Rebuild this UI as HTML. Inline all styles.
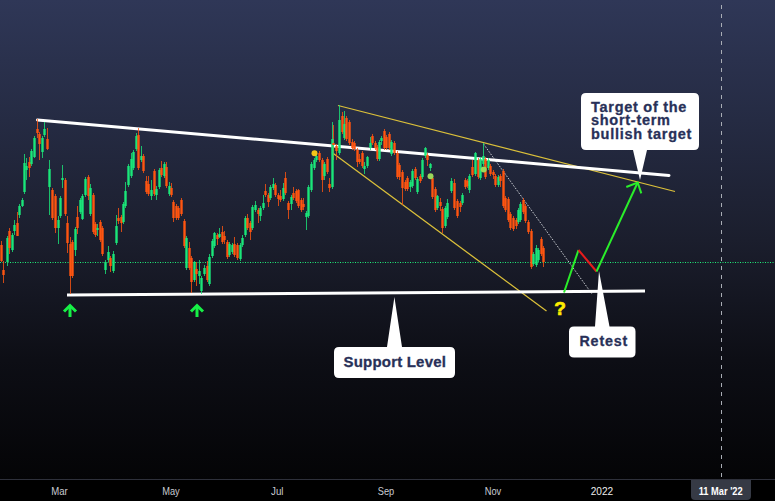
<!DOCTYPE html>
<html><head><meta charset="utf-8"><style>
html,body{margin:0;padding:0;background:#0b0b0e;}
body{width:775px;height:501px;overflow:hidden;position:relative;font-family:"Liberation Sans",sans-serif;}
svg{position:absolute;left:0;top:0;}
</style></head><body>
<svg width="775" height="501" viewBox="0 0 775 501">
<defs>
<linearGradient id="bg" x1="0" y1="0" x2="0" y2="480" gradientUnits="userSpaceOnUse">
<stop offset="0" stop-color="#2f3757"/>
<stop offset="0.25" stop-color="#252b43"/>
<stop offset="0.5" stop-color="#1b1e2d"/>
<stop offset="0.75" stop-color="#0d0e15"/>
<stop offset="1" stop-color="#040406"/>
</linearGradient>
</defs>
<rect x="0" y="0" width="775" height="480" fill="url(#bg)"/>
<rect x="0" y="480" width="775" height="21" fill="#000000"/>
<rect x="0" y="479" width="775" height="1" fill="#2e303b"/>
<!-- dashed vertical -->
<line x1="721.5" y1="5" x2="721.5" y2="479" stroke="#a9adb5" stroke-width="1" stroke-dasharray="4 5"/>
<!-- green dotted horizontal -->
<line x1="0" y1="262.5" x2="775" y2="262.5" stroke="#1ef07a" stroke-width="1" stroke-dasharray="1 1.5"/>
<!-- yellow channel -->
<line x1="338" y1="105.5" x2="675" y2="191.5" stroke="#dcc13a" stroke-width="1.25"/>
<line x1="332" y1="152.5" x2="546.5" y2="311" stroke="#dcc13a" stroke-width="1.25"/>
<!-- gray dotted -->
<line x1="483.5" y1="144" x2="592" y2="294" stroke="#c8cbd0" stroke-width="1" stroke-dasharray="1.6 1.4"/>
<!-- white lines -->
<line x1="37.5" y1="120" x2="669" y2="175.4" stroke="#ffffff" stroke-width="3" stroke-linecap="round"/>
<line x1="67" y1="295" x2="645" y2="291" stroke="#ffffff" stroke-width="3" stroke-linecap="butt"/>
<rect x="1" y="241" width="1" height="21" fill="#ff5510" fill-opacity="0.8"/>
<rect x="3" y="261" width="1" height="22" fill="#ff5510" fill-opacity="0.8"/>
<rect x="7" y="236" width="1" height="30" fill="#1ae679" fill-opacity="0.8"/>
<rect x="9" y="228" width="1" height="26" fill="#ff5510" fill-opacity="0.8"/>
<rect x="12" y="233" width="1" height="19" fill="#1ae679" fill-opacity="0.8"/>
<rect x="14" y="220" width="1" height="15" fill="#1ae679" fill-opacity="0.8"/>
<rect x="17" y="212" width="1" height="24" fill="#ff5510" fill-opacity="0.8"/>
<rect x="19" y="204" width="1" height="14" fill="#1ae679" fill-opacity="0.8"/>
<rect x="22" y="198" width="1" height="9" fill="#1ae679" fill-opacity="0.8"/>
<rect x="24" y="154" width="1" height="40" fill="#1ae679" fill-opacity="0.8"/>
<rect x="26" y="158" width="1" height="22" fill="#1ae679" fill-opacity="0.8"/>
<rect x="29" y="157" width="1" height="20" fill="#ff5510" fill-opacity="0.8"/>
<rect x="31" y="149" width="1" height="17" fill="#1ae679" fill-opacity="0.8"/>
<rect x="34" y="136" width="1" height="22" fill="#1ae679" fill-opacity="0.8"/>
<rect x="37" y="119" width="1" height="19" fill="#ff5510" fill-opacity="0.8"/>
<rect x="39" y="132" width="1" height="28" fill="#ff5510" fill-opacity="0.8"/>
<rect x="42" y="136" width="1" height="22" fill="#1ae679" fill-opacity="0.8"/>
<rect x="44" y="122" width="1" height="15" fill="#1ae679" fill-opacity="0.8"/>
<rect x="47" y="128" width="1" height="22" fill="#ff5510" fill-opacity="0.8"/>
<rect x="49" y="160" width="1" height="55" fill="#1ae679" fill-opacity="0.8"/>
<rect x="52" y="188" width="1" height="32" fill="#ff5510" fill-opacity="0.8"/>
<rect x="55" y="194" width="1" height="39" fill="#ff5510" fill-opacity="0.8"/>
<rect x="58" y="216" width="1" height="28" fill="#1ae679" fill-opacity="0.8"/>
<rect x="60" y="196" width="1" height="22" fill="#1ae679" fill-opacity="0.8"/>
<rect x="62" y="165" width="1" height="23" fill="#1ae679" fill-opacity="0.8"/>
<rect x="65" y="178" width="1" height="38" fill="#ff5510" fill-opacity="0.8"/>
<rect x="67" y="216" width="1" height="37" fill="#ff5510" fill-opacity="0.8"/>
<rect x="70" y="237" width="1" height="57" fill="#ff5510" fill-opacity="0.8"/>
<rect x="72" y="240" width="1" height="38" fill="#ff5510" fill-opacity="0.8"/>
<rect x="75" y="227" width="1" height="29" fill="#1ae679" fill-opacity="0.8"/>
<rect x="77" y="206" width="1" height="28" fill="#ff5510" fill-opacity="0.8"/>
<rect x="80" y="198" width="1" height="16" fill="#1ae679" fill-opacity="0.8"/>
<rect x="82" y="194" width="1" height="26" fill="#1ae679" fill-opacity="0.8"/>
<rect x="85" y="177" width="1" height="20" fill="#1ae679" fill-opacity="0.8"/>
<rect x="88" y="175" width="1" height="25" fill="#ff5510" fill-opacity="0.8"/>
<rect x="90" y="184" width="1" height="32" fill="#1ae679" fill-opacity="0.8"/>
<rect x="93" y="193" width="1" height="41" fill="#ff5510" fill-opacity="0.8"/>
<rect x="95" y="222" width="1" height="15" fill="#ff5510" fill-opacity="0.8"/>
<rect x="97" y="224" width="1" height="12" fill="#1ae679" fill-opacity="0.8"/>
<rect x="100" y="220" width="1" height="22" fill="#ff5510" fill-opacity="0.8"/>
<rect x="102" y="226" width="1" height="30" fill="#ff5510" fill-opacity="0.8"/>
<rect x="105" y="260" width="1" height="14" fill="#1ae679" fill-opacity="0.8"/>
<rect x="108" y="246" width="1" height="16" fill="#1ae679" fill-opacity="0.8"/>
<rect x="110" y="256" width="1" height="16" fill="#ff5510" fill-opacity="0.8"/>
<rect x="113" y="251" width="1" height="22" fill="#1ae679" fill-opacity="0.8"/>
<rect x="116" y="215" width="1" height="30" fill="#1ae679" fill-opacity="0.8"/>
<rect x="118" y="208" width="1" height="16" fill="#ff5510" fill-opacity="0.8"/>
<rect x="121" y="215" width="1" height="17" fill="#ff5510" fill-opacity="0.8"/>
<rect x="123" y="202" width="1" height="22" fill="#1ae679" fill-opacity="0.8"/>
<rect x="125" y="182" width="1" height="26" fill="#1ae679" fill-opacity="0.8"/>
<rect x="128" y="164" width="1" height="23" fill="#1ae679" fill-opacity="0.8"/>
<rect x="131" y="153" width="1" height="25" fill="#1ae679" fill-opacity="0.8"/>
<rect x="133" y="150" width="1" height="20" fill="#1ae679" fill-opacity="0.8"/>
<rect x="136" y="133" width="1" height="18" fill="#1ae679" fill-opacity="0.8"/>
<rect x="138" y="128" width="1" height="42" fill="#ff5510" fill-opacity="0.8"/>
<rect x="141" y="146" width="1" height="16" fill="#1ae679" fill-opacity="0.8"/>
<rect x="143" y="154" width="1" height="19" fill="#ff5510" fill-opacity="0.8"/>
<rect x="146" y="176" width="1" height="18" fill="#ff5510" fill-opacity="0.8"/>
<rect x="148" y="176" width="1" height="20" fill="#ff5510" fill-opacity="0.8"/>
<rect x="151" y="180" width="1" height="20" fill="#1ae679" fill-opacity="0.8"/>
<rect x="154" y="169" width="1" height="27" fill="#ff5510" fill-opacity="0.8"/>
<rect x="156" y="186" width="1" height="14" fill="#1ae679" fill-opacity="0.8"/>
<rect x="159" y="168" width="1" height="21" fill="#1ae679" fill-opacity="0.8"/>
<rect x="161" y="161" width="1" height="16" fill="#ff5510" fill-opacity="0.8"/>
<rect x="164" y="162" width="1" height="16" fill="#1ae679" fill-opacity="0.8"/>
<rect x="166" y="162" width="1" height="26" fill="#ff5510" fill-opacity="0.8"/>
<rect x="169" y="182" width="1" height="14" fill="#1ae679" fill-opacity="0.8"/>
<rect x="171" y="183" width="1" height="14" fill="#ff5510" fill-opacity="0.8"/>
<rect x="173" y="200" width="1" height="22" fill="#ff5510" fill-opacity="0.8"/>
<rect x="176" y="204" width="1" height="16" fill="#ff5510" fill-opacity="0.8"/>
<rect x="178" y="206" width="1" height="14" fill="#ff5510" fill-opacity="0.8"/>
<rect x="181" y="198" width="1" height="18" fill="#ff5510" fill-opacity="0.8"/>
<rect x="184" y="219" width="1" height="29" fill="#ff5510" fill-opacity="0.8"/>
<rect x="186" y="236" width="1" height="34" fill="#1ae679" fill-opacity="0.8"/>
<rect x="189" y="242" width="1" height="28" fill="#ff5510" fill-opacity="0.8"/>
<rect x="191" y="256" width="1" height="37" fill="#ff5510" fill-opacity="0.8"/>
<rect x="194" y="261" width="1" height="21" fill="#1ae679" fill-opacity="0.8"/>
<rect x="196" y="262" width="1" height="24" fill="#ff5510" fill-opacity="0.8"/>
<rect x="199" y="260" width="1" height="24" fill="#1ae679" fill-opacity="0.8"/>
<rect x="201" y="276" width="1" height="18" fill="#1ae679" fill-opacity="0.8"/>
<rect x="204" y="265" width="1" height="11" fill="#1ae679" fill-opacity="0.8"/>
<rect x="207" y="261" width="1" height="21" fill="#ff5510" fill-opacity="0.8"/>
<rect x="209" y="254" width="1" height="32" fill="#1ae679" fill-opacity="0.8"/>
<rect x="212" y="239" width="1" height="19" fill="#1ae679" fill-opacity="0.8"/>
<rect x="214" y="232" width="1" height="16" fill="#1ae679" fill-opacity="0.8"/>
<rect x="217" y="233" width="1" height="12" fill="#ff5510" fill-opacity="0.8"/>
<rect x="219" y="228" width="1" height="10" fill="#1ae679" fill-opacity="0.8"/>
<rect x="222" y="226" width="1" height="18" fill="#ff5510" fill-opacity="0.8"/>
<rect x="224" y="231" width="1" height="13" fill="#ff5510" fill-opacity="0.8"/>
<rect x="227" y="240" width="1" height="19" fill="#ff5510" fill-opacity="0.8"/>
<rect x="229" y="242" width="1" height="15" fill="#1ae679" fill-opacity="0.8"/>
<rect x="232" y="243" width="1" height="11" fill="#1ae679" fill-opacity="0.8"/>
<rect x="234" y="237" width="1" height="20" fill="#ff5510" fill-opacity="0.8"/>
<rect x="237" y="243" width="1" height="17" fill="#ff5510" fill-opacity="0.8"/>
<rect x="240" y="243" width="1" height="18" fill="#1ae679" fill-opacity="0.8"/>
<rect x="242" y="235" width="1" height="12" fill="#1ae679" fill-opacity="0.8"/>
<rect x="245" y="216" width="1" height="21" fill="#1ae679" fill-opacity="0.8"/>
<rect x="247" y="214" width="1" height="16" fill="#ff5510" fill-opacity="0.8"/>
<rect x="250" y="221" width="1" height="19" fill="#ff5510" fill-opacity="0.8"/>
<rect x="252" y="205" width="1" height="25" fill="#1ae679" fill-opacity="0.8"/>
<rect x="255" y="201" width="1" height="11" fill="#1ae679" fill-opacity="0.8"/>
<rect x="258" y="208" width="1" height="15" fill="#ff5510" fill-opacity="0.8"/>
<rect x="260" y="206" width="1" height="15" fill="#1ae679" fill-opacity="0.8"/>
<rect x="263" y="195" width="1" height="15" fill="#1ae679" fill-opacity="0.8"/>
<rect x="265" y="184" width="1" height="13" fill="#ff5510" fill-opacity="0.8"/>
<rect x="268" y="193" width="1" height="14" fill="#ff5510" fill-opacity="0.8"/>
<rect x="270" y="185" width="1" height="15" fill="#1ae679" fill-opacity="0.8"/>
<rect x="273" y="178" width="1" height="12" fill="#1ae679" fill-opacity="0.8"/>
<rect x="275" y="183" width="1" height="14" fill="#ff5510" fill-opacity="0.8"/>
<rect x="278" y="193" width="1" height="13" fill="#ff5510" fill-opacity="0.8"/>
<rect x="280" y="190" width="1" height="12" fill="#ff5510" fill-opacity="0.8"/>
<rect x="283" y="183" width="1" height="18" fill="#1ae679" fill-opacity="0.8"/>
<rect x="285" y="172" width="1" height="23" fill="#ff5510" fill-opacity="0.8"/>
<rect x="288" y="201" width="1" height="18" fill="#ff5510" fill-opacity="0.8"/>
<rect x="291" y="195" width="1" height="15" fill="#1ae679" fill-opacity="0.8"/>
<rect x="293" y="187" width="1" height="13" fill="#ff5510" fill-opacity="0.8"/>
<rect x="296" y="189" width="1" height="14" fill="#ff5510" fill-opacity="0.8"/>
<rect x="298" y="189" width="1" height="19" fill="#ff5510" fill-opacity="0.8"/>
<rect x="301" y="198" width="1" height="14" fill="#ff5510" fill-opacity="0.8"/>
<rect x="303" y="198" width="1" height="12" fill="#ff5510" fill-opacity="0.8"/>
<rect x="306" y="211" width="1" height="19" fill="#1ae679" fill-opacity="0.8"/>
<rect x="308" y="185" width="1" height="33" fill="#1ae679" fill-opacity="0.8"/>
<rect x="311" y="162" width="1" height="30" fill="#1ae679" fill-opacity="0.8"/>
<rect x="314" y="158" width="1" height="12" fill="#1ae679" fill-opacity="0.8"/>
<rect x="316" y="151" width="1" height="11" fill="#1ae679" fill-opacity="0.8"/>
<rect x="319" y="151" width="1" height="11" fill="#ff5510" fill-opacity="0.8"/>
<rect x="322" y="158" width="1" height="34" fill="#ff5510" fill-opacity="0.8"/>
<rect x="324" y="162" width="1" height="18" fill="#1ae679" fill-opacity="0.8"/>
<rect x="327" y="157" width="1" height="17" fill="#ff5510" fill-opacity="0.8"/>
<rect x="329" y="178" width="1" height="14" fill="#ff5510" fill-opacity="0.8"/>
<rect x="332" y="122" width="1" height="67" fill="#1ae679" fill-opacity="0.8"/>
<rect x="333" y="125" width="1" height="35" fill="#ff5510" fill-opacity="0.8"/>
<rect x="336" y="144" width="1" height="16" fill="#ff5510" fill-opacity="0.8"/>
<rect x="339" y="105" width="1" height="50" fill="#1ae679" fill-opacity="0.8"/>
<rect x="342" y="112" width="1" height="22" fill="#ff5510" fill-opacity="0.8"/>
<rect x="344" y="111" width="1" height="29" fill="#1ae679" fill-opacity="0.8"/>
<rect x="346" y="116" width="1" height="25" fill="#ff5510" fill-opacity="0.8"/>
<rect x="349" y="120" width="1" height="25" fill="#ff5510" fill-opacity="0.8"/>
<rect x="352" y="139" width="1" height="11" fill="#ff5510" fill-opacity="0.8"/>
<rect x="354" y="141" width="1" height="10" fill="#ff5510" fill-opacity="0.8"/>
<rect x="357" y="148" width="1" height="19" fill="#ff5510" fill-opacity="0.8"/>
<rect x="359" y="154" width="1" height="10" fill="#ff5510" fill-opacity="0.8"/>
<rect x="362" y="151" width="1" height="17" fill="#ff5510" fill-opacity="0.8"/>
<rect x="364" y="162" width="1" height="12" fill="#1ae679" fill-opacity="0.8"/>
<rect x="367" y="156" width="1" height="12" fill="#1ae679" fill-opacity="0.8"/>
<rect x="370" y="137" width="1" height="13" fill="#1ae679" fill-opacity="0.8"/>
<rect x="372" y="134" width="1" height="11" fill="#ff5510" fill-opacity="0.8"/>
<rect x="375" y="141" width="1" height="9" fill="#ff5510" fill-opacity="0.8"/>
<rect x="377" y="145" width="1" height="16" fill="#ff5510" fill-opacity="0.8"/>
<rect x="379" y="140" width="1" height="21" fill="#1ae679" fill-opacity="0.8"/>
<rect x="381" y="136" width="1" height="9" fill="#1ae679" fill-opacity="0.8"/>
<rect x="384" y="129" width="1" height="21" fill="#ff5510" fill-opacity="0.8"/>
<rect x="386" y="135" width="1" height="15" fill="#ff5510" fill-opacity="0.8"/>
<rect x="389" y="132" width="1" height="18" fill="#ff5510" fill-opacity="0.8"/>
<rect x="391" y="140" width="1" height="16" fill="#1ae679" fill-opacity="0.8"/>
<rect x="394" y="141" width="1" height="14" fill="#ff5510" fill-opacity="0.8"/>
<rect x="397" y="151" width="1" height="28" fill="#ff5510" fill-opacity="0.8"/>
<rect x="399" y="163" width="1" height="17" fill="#ff5510" fill-opacity="0.8"/>
<rect x="402" y="170" width="1" height="35" fill="#ff5510" fill-opacity="0.8"/>
<rect x="405" y="180" width="1" height="11" fill="#ff5510" fill-opacity="0.8"/>
<rect x="407" y="176" width="1" height="15" fill="#ff5510" fill-opacity="0.8"/>
<rect x="410" y="180" width="1" height="12" fill="#1ae679" fill-opacity="0.8"/>
<rect x="412" y="169" width="1" height="19" fill="#1ae679" fill-opacity="0.8"/>
<rect x="415" y="167" width="1" height="13" fill="#ff5510" fill-opacity="0.8"/>
<rect x="417" y="177" width="1" height="17" fill="#1ae679" fill-opacity="0.8"/>
<rect x="420" y="174" width="1" height="9" fill="#ff5510" fill-opacity="0.8"/>
<rect x="422" y="158" width="1" height="21" fill="#1ae679" fill-opacity="0.8"/>
<rect x="425" y="147" width="1" height="11" fill="#1ae679" fill-opacity="0.8"/>
<rect x="427" y="153" width="1" height="13" fill="#ff5510" fill-opacity="0.8"/>
<rect x="430" y="163" width="1" height="8" fill="#1ae679" fill-opacity="0.8"/>
<rect x="432" y="176" width="1" height="23" fill="#ff5510" fill-opacity="0.8"/>
<rect x="435" y="187" width="1" height="25" fill="#ff5510" fill-opacity="0.8"/>
<rect x="437" y="195" width="1" height="15" fill="#1ae679" fill-opacity="0.8"/>
<rect x="440" y="198" width="1" height="13" fill="#ff5510" fill-opacity="0.8"/>
<rect x="442" y="207" width="1" height="26" fill="#ff5510" fill-opacity="0.8"/>
<rect x="445" y="206" width="1" height="22" fill="#1ae679" fill-opacity="0.8"/>
<rect x="447" y="199" width="1" height="20" fill="#1ae679" fill-opacity="0.8"/>
<rect x="451" y="178" width="1" height="15" fill="#1ae679" fill-opacity="0.8"/>
<rect x="454" y="179" width="1" height="31" fill="#ff5510" fill-opacity="0.8"/>
<rect x="457" y="199" width="1" height="19" fill="#ff5510" fill-opacity="0.8"/>
<rect x="460" y="201" width="1" height="11" fill="#ff5510" fill-opacity="0.8"/>
<rect x="462" y="193" width="1" height="12" fill="#1ae679" fill-opacity="0.8"/>
<rect x="465" y="178" width="1" height="11" fill="#ff5510" fill-opacity="0.8"/>
<rect x="467" y="179" width="1" height="9" fill="#ff5510" fill-opacity="0.8"/>
<rect x="469" y="174" width="1" height="19" fill="#1ae679" fill-opacity="0.8"/>
<rect x="472" y="160" width="1" height="17" fill="#ff5510" fill-opacity="0.8"/>
<rect x="475" y="152" width="1" height="24" fill="#1ae679" fill-opacity="0.8"/>
<rect x="478" y="158" width="1" height="21" fill="#ff5510" fill-opacity="0.8"/>
<rect x="480" y="157" width="1" height="23" fill="#1ae679" fill-opacity="0.8"/>
<rect x="483" y="143" width="1" height="23" fill="#1ae679" fill-opacity="0.8"/>
<rect x="485" y="157" width="1" height="22" fill="#ff5510" fill-opacity="0.8"/>
<rect x="488" y="158" width="1" height="12" fill="#1ae679" fill-opacity="0.8"/>
<rect x="490" y="164" width="1" height="12" fill="#ff5510" fill-opacity="0.8"/>
<rect x="493" y="170" width="1" height="9" fill="#ff5510" fill-opacity="0.8"/>
<rect x="495" y="174" width="1" height="13" fill="#ff5510" fill-opacity="0.8"/>
<rect x="498" y="175" width="1" height="12" fill="#1ae679" fill-opacity="0.8"/>
<rect x="500" y="174" width="1" height="13" fill="#ff5510" fill-opacity="0.8"/>
<rect x="503" y="169" width="1" height="39" fill="#ff5510" fill-opacity="0.8"/>
<rect x="505" y="196" width="1" height="16" fill="#ff5510" fill-opacity="0.8"/>
<rect x="508" y="197" width="1" height="25" fill="#ff5510" fill-opacity="0.8"/>
<rect x="510" y="212" width="1" height="18" fill="#ff5510" fill-opacity="0.8"/>
<rect x="513" y="216" width="1" height="15" fill="#ff5510" fill-opacity="0.8"/>
<rect x="516" y="218" width="1" height="11" fill="#ff5510" fill-opacity="0.8"/>
<rect x="518" y="208" width="1" height="16" fill="#1ae679" fill-opacity="0.8"/>
<rect x="520" y="202" width="1" height="20" fill="#1ae679" fill-opacity="0.8"/>
<rect x="523" y="198" width="1" height="16" fill="#ff5510" fill-opacity="0.8"/>
<rect x="525" y="204" width="1" height="19" fill="#ff5510" fill-opacity="0.8"/>
<rect x="528" y="220" width="1" height="14" fill="#ff5510" fill-opacity="0.8"/>
<rect x="531" y="229" width="1" height="40" fill="#ff5510" fill-opacity="0.8"/>
<rect x="533" y="252" width="1" height="14" fill="#1ae679" fill-opacity="0.8"/>
<rect x="536" y="245" width="1" height="22" fill="#1ae679" fill-opacity="0.8"/>
<rect x="538" y="248" width="1" height="14" fill="#1ae679" fill-opacity="0.8"/>
<rect x="541" y="237" width="1" height="19" fill="#ff5510" fill-opacity="0.8"/>
<rect x="543" y="246" width="1" height="21" fill="#ff5510" fill-opacity="0.8"/>
<rect x="0.3" y="245" width="2.4" height="16" fill="#ff5510"/>
<rect x="2.3" y="270" width="2.4" height="5" fill="#ff5510"/>
<rect x="6.3" y="238" width="2.4" height="24" fill="#1ae679"/>
<rect x="8.3" y="231" width="2.4" height="17" fill="#ff5510"/>
<rect x="11.3" y="235" width="2.4" height="15" fill="#1ae679"/>
<rect x="13.3" y="225" width="2.4" height="6" fill="#1ae679"/>
<rect x="16.3" y="223" width="2.4" height="13" fill="#ff5510"/>
<rect x="18.3" y="206" width="2.4" height="9" fill="#1ae679"/>
<rect x="21.3" y="200" width="2.4" height="6" fill="#1ae679"/>
<rect x="23.3" y="163" width="2.4" height="29" fill="#1ae679"/>
<rect x="25.3" y="166" width="2.4" height="4" fill="#1ae679"/>
<rect x="28.3" y="162" width="2.4" height="6" fill="#ff5510"/>
<rect x="30.3" y="151" width="2.4" height="13" fill="#1ae679"/>
<rect x="33.3" y="138" width="2.4" height="19" fill="#1ae679"/>
<rect x="36.3" y="129" width="2.4" height="4" fill="#ff5510"/>
<rect x="38.3" y="134" width="2.4" height="10" fill="#ff5510"/>
<rect x="41.3" y="138" width="2.4" height="14" fill="#1ae679"/>
<rect x="43.3" y="129" width="2.4" height="6" fill="#1ae679"/>
<rect x="46.3" y="139" width="2.4" height="10" fill="#ff5510"/>
<rect x="48.3" y="169" width="2.4" height="18" fill="#1ae679"/>
<rect x="51.3" y="190" width="2.4" height="28" fill="#ff5510"/>
<rect x="54.3" y="196" width="2.4" height="32" fill="#ff5510"/>
<rect x="57.3" y="220" width="2.4" height="8" fill="#1ae679"/>
<rect x="59.3" y="198" width="2.4" height="18" fill="#1ae679"/>
<rect x="61.3" y="178" width="2.4" height="2" fill="#1ae679"/>
<rect x="64.3" y="180" width="2.4" height="34" fill="#ff5510"/>
<rect x="66.3" y="223" width="2.4" height="20" fill="#ff5510"/>
<rect x="69.3" y="244" width="2.4" height="32" fill="#ff5510"/>
<rect x="71.3" y="242" width="2.4" height="34" fill="#ff5510"/>
<rect x="74.3" y="229" width="2.4" height="21" fill="#1ae679"/>
<rect x="76.3" y="217" width="2.4" height="11" fill="#ff5510"/>
<rect x="79.3" y="200" width="2.4" height="12" fill="#1ae679"/>
<rect x="81.3" y="196" width="2.4" height="23" fill="#1ae679"/>
<rect x="84.3" y="179" width="2.4" height="16" fill="#1ae679"/>
<rect x="87.3" y="177" width="2.4" height="19" fill="#ff5510"/>
<rect x="89.3" y="188" width="2.4" height="26" fill="#1ae679"/>
<rect x="92.3" y="195" width="2.4" height="37" fill="#ff5510"/>
<rect x="94.3" y="224" width="2.4" height="11" fill="#ff5510"/>
<rect x="96.3" y="228" width="2.4" height="2" fill="#1ae679"/>
<rect x="99.3" y="222" width="2.4" height="18" fill="#ff5510"/>
<rect x="101.3" y="228" width="2.4" height="26" fill="#ff5510"/>
<rect x="104.3" y="262" width="2.4" height="8" fill="#1ae679"/>
<rect x="107.3" y="252" width="2.4" height="8" fill="#1ae679"/>
<rect x="109.3" y="258" width="2.4" height="8" fill="#ff5510"/>
<rect x="112.3" y="254" width="2.4" height="17" fill="#1ae679"/>
<rect x="115.3" y="226" width="2.4" height="17" fill="#1ae679"/>
<rect x="117.3" y="218" width="2.4" height="3" fill="#ff5510"/>
<rect x="120.3" y="217" width="2.4" height="6" fill="#ff5510"/>
<rect x="122.3" y="204" width="2.4" height="18" fill="#1ae679"/>
<rect x="124.3" y="191" width="2.4" height="15" fill="#1ae679"/>
<rect x="127.3" y="166" width="2.4" height="19" fill="#1ae679"/>
<rect x="130.3" y="159" width="2.4" height="17" fill="#1ae679"/>
<rect x="132.3" y="152" width="2.4" height="16" fill="#1ae679"/>
<rect x="135.3" y="136" width="2.4" height="13" fill="#1ae679"/>
<rect x="137.3" y="135" width="2.4" height="33" fill="#ff5510"/>
<rect x="140.3" y="156" width="2.4" height="4" fill="#1ae679"/>
<rect x="142.3" y="156" width="2.4" height="15" fill="#ff5510"/>
<rect x="145.3" y="181" width="2.4" height="11" fill="#ff5510"/>
<rect x="147.3" y="184" width="2.4" height="10" fill="#ff5510"/>
<rect x="150.3" y="190" width="2.4" height="6" fill="#1ae679"/>
<rect x="153.3" y="171" width="2.4" height="23" fill="#ff5510"/>
<rect x="155.3" y="189" width="2.4" height="6" fill="#1ae679"/>
<rect x="158.3" y="170" width="2.4" height="17" fill="#1ae679"/>
<rect x="160.3" y="168" width="2.4" height="7" fill="#ff5510"/>
<rect x="163.3" y="164" width="2.4" height="12" fill="#1ae679"/>
<rect x="165.3" y="167" width="2.4" height="19" fill="#ff5510"/>
<rect x="168.3" y="186" width="2.4" height="8" fill="#1ae679"/>
<rect x="170.3" y="188" width="2.4" height="7" fill="#ff5510"/>
<rect x="172.3" y="202" width="2.4" height="16" fill="#ff5510"/>
<rect x="175.3" y="206" width="2.4" height="12" fill="#ff5510"/>
<rect x="177.3" y="208" width="2.4" height="10" fill="#ff5510"/>
<rect x="180.3" y="200" width="2.4" height="14" fill="#ff5510"/>
<rect x="183.3" y="221" width="2.4" height="25" fill="#ff5510"/>
<rect x="185.3" y="238" width="2.4" height="30" fill="#1ae679"/>
<rect x="188.3" y="248" width="2.4" height="20" fill="#ff5510"/>
<rect x="190.3" y="258" width="2.4" height="24" fill="#ff5510"/>
<rect x="193.3" y="262" width="2.4" height="18" fill="#1ae679"/>
<rect x="195.3" y="269" width="2.4" height="5" fill="#ff5510"/>
<rect x="198.3" y="271" width="2.4" height="5" fill="#1ae679"/>
<rect x="200.3" y="278" width="2.4" height="13" fill="#1ae679"/>
<rect x="203.3" y="268" width="2.4" height="6" fill="#1ae679"/>
<rect x="206.3" y="266" width="2.4" height="14" fill="#ff5510"/>
<rect x="208.3" y="257" width="2.4" height="27" fill="#1ae679"/>
<rect x="211.3" y="241" width="2.4" height="15" fill="#1ae679"/>
<rect x="213.3" y="233" width="2.4" height="13" fill="#1ae679"/>
<rect x="216.3" y="235" width="2.4" height="4" fill="#ff5510"/>
<rect x="218.3" y="234" width="2.4" height="3" fill="#1ae679"/>
<rect x="221.3" y="232" width="2.4" height="10" fill="#ff5510"/>
<rect x="223.3" y="236" width="2.4" height="4" fill="#ff5510"/>
<rect x="226.3" y="242" width="2.4" height="15" fill="#ff5510"/>
<rect x="228.3" y="244" width="2.4" height="11" fill="#1ae679"/>
<rect x="231.3" y="245" width="2.4" height="7" fill="#1ae679"/>
<rect x="233.3" y="244" width="2.4" height="11" fill="#ff5510"/>
<rect x="236.3" y="245" width="2.4" height="13" fill="#ff5510"/>
<rect x="239.3" y="245" width="2.4" height="14" fill="#1ae679"/>
<rect x="241.3" y="238" width="2.4" height="7" fill="#1ae679"/>
<rect x="244.3" y="218" width="2.4" height="17" fill="#1ae679"/>
<rect x="246.3" y="218" width="2.4" height="10" fill="#ff5510"/>
<rect x="249.3" y="223" width="2.4" height="9" fill="#ff5510"/>
<rect x="251.3" y="207" width="2.4" height="21" fill="#1ae679"/>
<rect x="254.3" y="205" width="2.4" height="5" fill="#1ae679"/>
<rect x="257.3" y="210" width="2.4" height="4" fill="#ff5510"/>
<rect x="259.3" y="208" width="2.4" height="8" fill="#1ae679"/>
<rect x="262.3" y="203" width="2.4" height="5" fill="#1ae679"/>
<rect x="264.3" y="191" width="2.4" height="4" fill="#ff5510"/>
<rect x="267.3" y="195" width="2.4" height="7" fill="#ff5510"/>
<rect x="269.3" y="187" width="2.4" height="11" fill="#1ae679"/>
<rect x="272.3" y="184" width="2.4" height="4" fill="#1ae679"/>
<rect x="274.3" y="185" width="2.4" height="10" fill="#ff5510"/>
<rect x="277.3" y="195" width="2.4" height="4" fill="#ff5510"/>
<rect x="279.3" y="196" width="2.4" height="4" fill="#ff5510"/>
<rect x="282.3" y="188" width="2.4" height="11" fill="#1ae679"/>
<rect x="284.3" y="178" width="2.4" height="15" fill="#ff5510"/>
<rect x="287.3" y="203" width="2.4" height="7" fill="#ff5510"/>
<rect x="290.3" y="197" width="2.4" height="7" fill="#1ae679"/>
<rect x="292.3" y="193" width="2.4" height="5" fill="#ff5510"/>
<rect x="295.3" y="191" width="2.4" height="10" fill="#ff5510"/>
<rect x="297.3" y="190" width="2.4" height="16" fill="#ff5510"/>
<rect x="300.3" y="200" width="2.4" height="10" fill="#ff5510"/>
<rect x="302.3" y="204" width="2.4" height="3" fill="#ff5510"/>
<rect x="305.3" y="213" width="2.4" height="4" fill="#1ae679"/>
<rect x="307.3" y="187" width="2.4" height="29" fill="#1ae679"/>
<rect x="310.3" y="164" width="2.4" height="26" fill="#1ae679"/>
<rect x="313.3" y="160" width="2.4" height="8" fill="#1ae679"/>
<rect x="315.3" y="156" width="2.4" height="4" fill="#1ae679"/>
<rect x="318.3" y="153" width="2.4" height="7" fill="#ff5510"/>
<rect x="321.3" y="160" width="2.4" height="20" fill="#ff5510"/>
<rect x="323.3" y="164" width="2.4" height="12" fill="#1ae679"/>
<rect x="326.3" y="159" width="2.4" height="13" fill="#ff5510"/>
<rect x="328.3" y="184" width="2.4" height="4" fill="#ff5510"/>
<rect x="331.3" y="139" width="2.4" height="48" fill="#1ae679"/>
<rect x="332.3" y="143" width="2.4" height="2" fill="#ff5510"/>
<rect x="335.3" y="146" width="2.4" height="5" fill="#ff5510"/>
<rect x="338.3" y="120" width="2.4" height="33" fill="#1ae679"/>
<rect x="341.3" y="116" width="2.4" height="16" fill="#ff5510"/>
<rect x="343.3" y="124" width="2.4" height="14" fill="#1ae679"/>
<rect x="345.3" y="118" width="2.4" height="21" fill="#ff5510"/>
<rect x="348.3" y="122" width="2.4" height="21" fill="#ff5510"/>
<rect x="351.3" y="142" width="2.4" height="6" fill="#ff5510"/>
<rect x="353.3" y="143" width="2.4" height="6" fill="#ff5510"/>
<rect x="356.3" y="150" width="2.4" height="12" fill="#ff5510"/>
<rect x="358.3" y="159" width="2.4" height="3" fill="#ff5510"/>
<rect x="361.3" y="153" width="2.4" height="13" fill="#ff5510"/>
<rect x="363.3" y="166" width="2.4" height="3" fill="#1ae679"/>
<rect x="366.3" y="157" width="2.4" height="9" fill="#1ae679"/>
<rect x="369.3" y="143" width="2.4" height="5" fill="#1ae679"/>
<rect x="371.3" y="136" width="2.4" height="7" fill="#ff5510"/>
<rect x="374.3" y="143" width="2.4" height="5" fill="#ff5510"/>
<rect x="376.3" y="147" width="2.4" height="12" fill="#ff5510"/>
<rect x="378.3" y="142" width="2.4" height="17" fill="#1ae679"/>
<rect x="380.3" y="138" width="2.4" height="3" fill="#1ae679"/>
<rect x="383.3" y="131" width="2.4" height="17" fill="#ff5510"/>
<rect x="385.3" y="137" width="2.4" height="11" fill="#ff5510"/>
<rect x="388.3" y="134" width="2.4" height="14" fill="#ff5510"/>
<rect x="390.3" y="142" width="2.4" height="12" fill="#1ae679"/>
<rect x="393.3" y="143" width="2.4" height="10" fill="#ff5510"/>
<rect x="396.3" y="153" width="2.4" height="24" fill="#ff5510"/>
<rect x="398.3" y="165" width="2.4" height="12" fill="#ff5510"/>
<rect x="401.3" y="172" width="2.4" height="16" fill="#ff5510"/>
<rect x="404.3" y="182" width="2.4" height="7" fill="#ff5510"/>
<rect x="406.3" y="178" width="2.4" height="11" fill="#ff5510"/>
<rect x="409.3" y="182" width="2.4" height="5" fill="#1ae679"/>
<rect x="411.3" y="171" width="2.4" height="15" fill="#1ae679"/>
<rect x="414.3" y="169" width="2.4" height="9" fill="#ff5510"/>
<rect x="416.3" y="179" width="2.4" height="13" fill="#1ae679"/>
<rect x="419.3" y="176" width="2.4" height="5" fill="#ff5510"/>
<rect x="421.3" y="160" width="2.4" height="17" fill="#1ae679"/>
<rect x="424.3" y="148" width="2.4" height="8" fill="#1ae679"/>
<rect x="426.3" y="155" width="2.4" height="5" fill="#ff5510"/>
<rect x="429.3" y="164" width="2.4" height="4" fill="#1ae679"/>
<rect x="431.3" y="178" width="2.4" height="19" fill="#ff5510"/>
<rect x="434.3" y="189" width="2.4" height="21" fill="#ff5510"/>
<rect x="436.3" y="196" width="2.4" height="12" fill="#1ae679"/>
<rect x="439.3" y="202" width="2.4" height="4" fill="#ff5510"/>
<rect x="441.3" y="209" width="2.4" height="19" fill="#ff5510"/>
<rect x="444.3" y="208" width="2.4" height="18" fill="#1ae679"/>
<rect x="446.3" y="203" width="2.4" height="14" fill="#1ae679"/>
<rect x="450.3" y="181" width="2.4" height="10" fill="#1ae679"/>
<rect x="453.3" y="183" width="2.4" height="25" fill="#ff5510"/>
<rect x="456.3" y="201" width="2.4" height="15" fill="#ff5510"/>
<rect x="459.3" y="203" width="2.4" height="4" fill="#ff5510"/>
<rect x="461.3" y="195" width="2.4" height="8" fill="#1ae679"/>
<rect x="464.3" y="180" width="2.4" height="7" fill="#ff5510"/>
<rect x="466.3" y="181" width="2.4" height="5" fill="#ff5510"/>
<rect x="468.3" y="176" width="2.4" height="14" fill="#1ae679"/>
<rect x="471.3" y="167" width="2.4" height="8" fill="#ff5510"/>
<rect x="474.3" y="153" width="2.4" height="21" fill="#1ae679"/>
<rect x="477.3" y="160" width="2.4" height="17" fill="#ff5510"/>
<rect x="479.3" y="159" width="2.4" height="19" fill="#1ae679"/>
<rect x="482.3" y="156" width="2.4" height="8" fill="#1ae679"/>
<rect x="484.3" y="159" width="2.4" height="18" fill="#ff5510"/>
<rect x="487.3" y="160" width="2.4" height="8" fill="#1ae679"/>
<rect x="489.3" y="166" width="2.4" height="8" fill="#ff5510"/>
<rect x="492.3" y="172" width="2.4" height="3" fill="#ff5510"/>
<rect x="494.3" y="176" width="2.4" height="9" fill="#ff5510"/>
<rect x="497.3" y="177" width="2.4" height="8" fill="#1ae679"/>
<rect x="499.3" y="176" width="2.4" height="5" fill="#ff5510"/>
<rect x="502.3" y="171" width="2.4" height="35" fill="#ff5510"/>
<rect x="504.3" y="198" width="2.4" height="12" fill="#ff5510"/>
<rect x="507.3" y="199" width="2.4" height="21" fill="#ff5510"/>
<rect x="509.3" y="214" width="2.4" height="14" fill="#ff5510"/>
<rect x="512.3" y="218" width="2.4" height="11" fill="#ff5510"/>
<rect x="515.3" y="220" width="2.4" height="6" fill="#ff5510"/>
<rect x="517.3" y="210" width="2.4" height="12" fill="#1ae679"/>
<rect x="519.3" y="204" width="2.4" height="16" fill="#1ae679"/>
<rect x="522.3" y="200" width="2.4" height="12" fill="#ff5510"/>
<rect x="524.3" y="206" width="2.4" height="15" fill="#ff5510"/>
<rect x="527.3" y="222" width="2.4" height="10" fill="#ff5510"/>
<rect x="530.3" y="231" width="2.4" height="36" fill="#ff5510"/>
<rect x="532.3" y="254" width="2.4" height="10" fill="#1ae679"/>
<rect x="535.3" y="248" width="2.4" height="17" fill="#1ae679"/>
<rect x="537.3" y="250" width="2.4" height="10" fill="#1ae679"/>
<rect x="540.3" y="239" width="2.4" height="15" fill="#ff5510"/>
<rect x="542.3" y="248" width="2.4" height="14" fill="#ff5510"/>
<!-- dots -->
<circle cx="314.5" cy="153.3" r="3" fill="#f5c518"/>
<circle cx="430.5" cy="176.2" r="3" fill="#9bd85a"/>
<circle cx="483.7" cy="169.5" r="3" fill="#9bd85a"/>
<!-- path -->
<polyline points="564,292.5 578.5,250" fill="none" stroke="#2aee2a" stroke-width="2"/>
<polyline points="578.5,250 596.5,271.5" fill="none" stroke="#e81c1c" stroke-width="2"/>
<polyline points="596.5,271.5 637.7,182.5" fill="none" stroke="#2aee2a" stroke-width="2"/>
<polyline points="626.3,187 637.7,182.5 641.3,193.4" fill="none" stroke="#2aee2a" stroke-width="2"/>
<!-- up arrows -->
<g stroke="#17f046" stroke-width="3" fill="none" stroke-linecap="butt">
<polyline points="64,311.5 70,305.5 76,311.5"/><line x1="70" y1="306" x2="70" y2="317"/>
<polyline points="191,311.5 197,305.5 203,311.5"/><line x1="197" y1="306" x2="197" y2="317"/>
</g>
<!-- ? -->
<text x="560" y="315" text-anchor="middle" font-family="Liberation Sans" font-weight="bold" font-size="19" fill="#ffee00" stroke="#ffee00" stroke-width="0.7">?</text>
<!-- callouts -->
<path d="M586,93 H694 Q699,93 699,98 V145 Q699,150 694,150 H647 L640,180 L633,150 H586 Q581,150 581,145 V98 Q581,93 586,93 Z" fill="#ffffff"/>
<path d="M339,347 H387 L394.4,297 L402,347 H450 Q455,347 455,352 V373 Q455,378 450,378 H339 Q334,378 334,373 V352 Q334,347 339,347 Z" fill="#ffffff"/>
<path d="M574,326.5 H595 L599,271 L609.5,326.5 H630.5 Q635.5,326.5 635.5,331.5 V352.5 Q635.5,357.5 630.5,357.5 H574 Q569,357.5 569,352.5 V331.5 Q569,326.5 574,326.5 Z" fill="#ffffff"/>
<g font-family="Liberation Sans" font-weight="bold" fill="#283058" stroke="#283058" stroke-width="0.3">
<text x="591" y="112" font-size="14.5" letter-spacing="0.72">Target of the</text>
<text x="591" y="125.3" font-size="14.5" letter-spacing="0.72">short-term</text>
<text x="591" y="138.6" font-size="14.5" letter-spacing="0.72">bullish target</text>
<text x="343.5" y="367" font-size="15" letter-spacing="0.2">Support Level</text>
<text x="579.5" y="346" font-size="14.3" letter-spacing="0.8">Retest</text>
</g>
<!-- axis -->
<g font-family="Liberation Sans" font-size="11" fill="#c9cbd1" text-anchor="middle" lengthAdjust="spacingAndGlyphs">
<text x="59.5" y="494.5" textLength="16.5" lengthAdjust="spacingAndGlyphs">Mar</text>
<text x="171" y="494.5" textLength="17.5" lengthAdjust="spacingAndGlyphs">May</text>
<text x="277.3" y="494.5" textLength="12.5" lengthAdjust="spacingAndGlyphs">Jul</text>
<text x="386" y="494.5" textLength="16.5" lengthAdjust="spacingAndGlyphs">Sep</text>
<text x="493" y="494.5" textLength="16.5" lengthAdjust="spacingAndGlyphs">Nov</text>
<text x="602" y="494.5" fill="#ececec" textLength="22.5" lengthAdjust="spacingAndGlyphs">2022</text>
</g>
<path d="M691,480 H751 V496 Q751,500 747,500 H695 Q691,500 691,496 Z" fill="#363a45"/>
<text x="720.7" y="494.5" text-anchor="middle" font-family="Liberation Sans" font-weight="bold" font-size="11" fill="#ffffff" textLength="44" lengthAdjust="spacingAndGlyphs">11 Mar '22</text>
</svg>
</body></html>
